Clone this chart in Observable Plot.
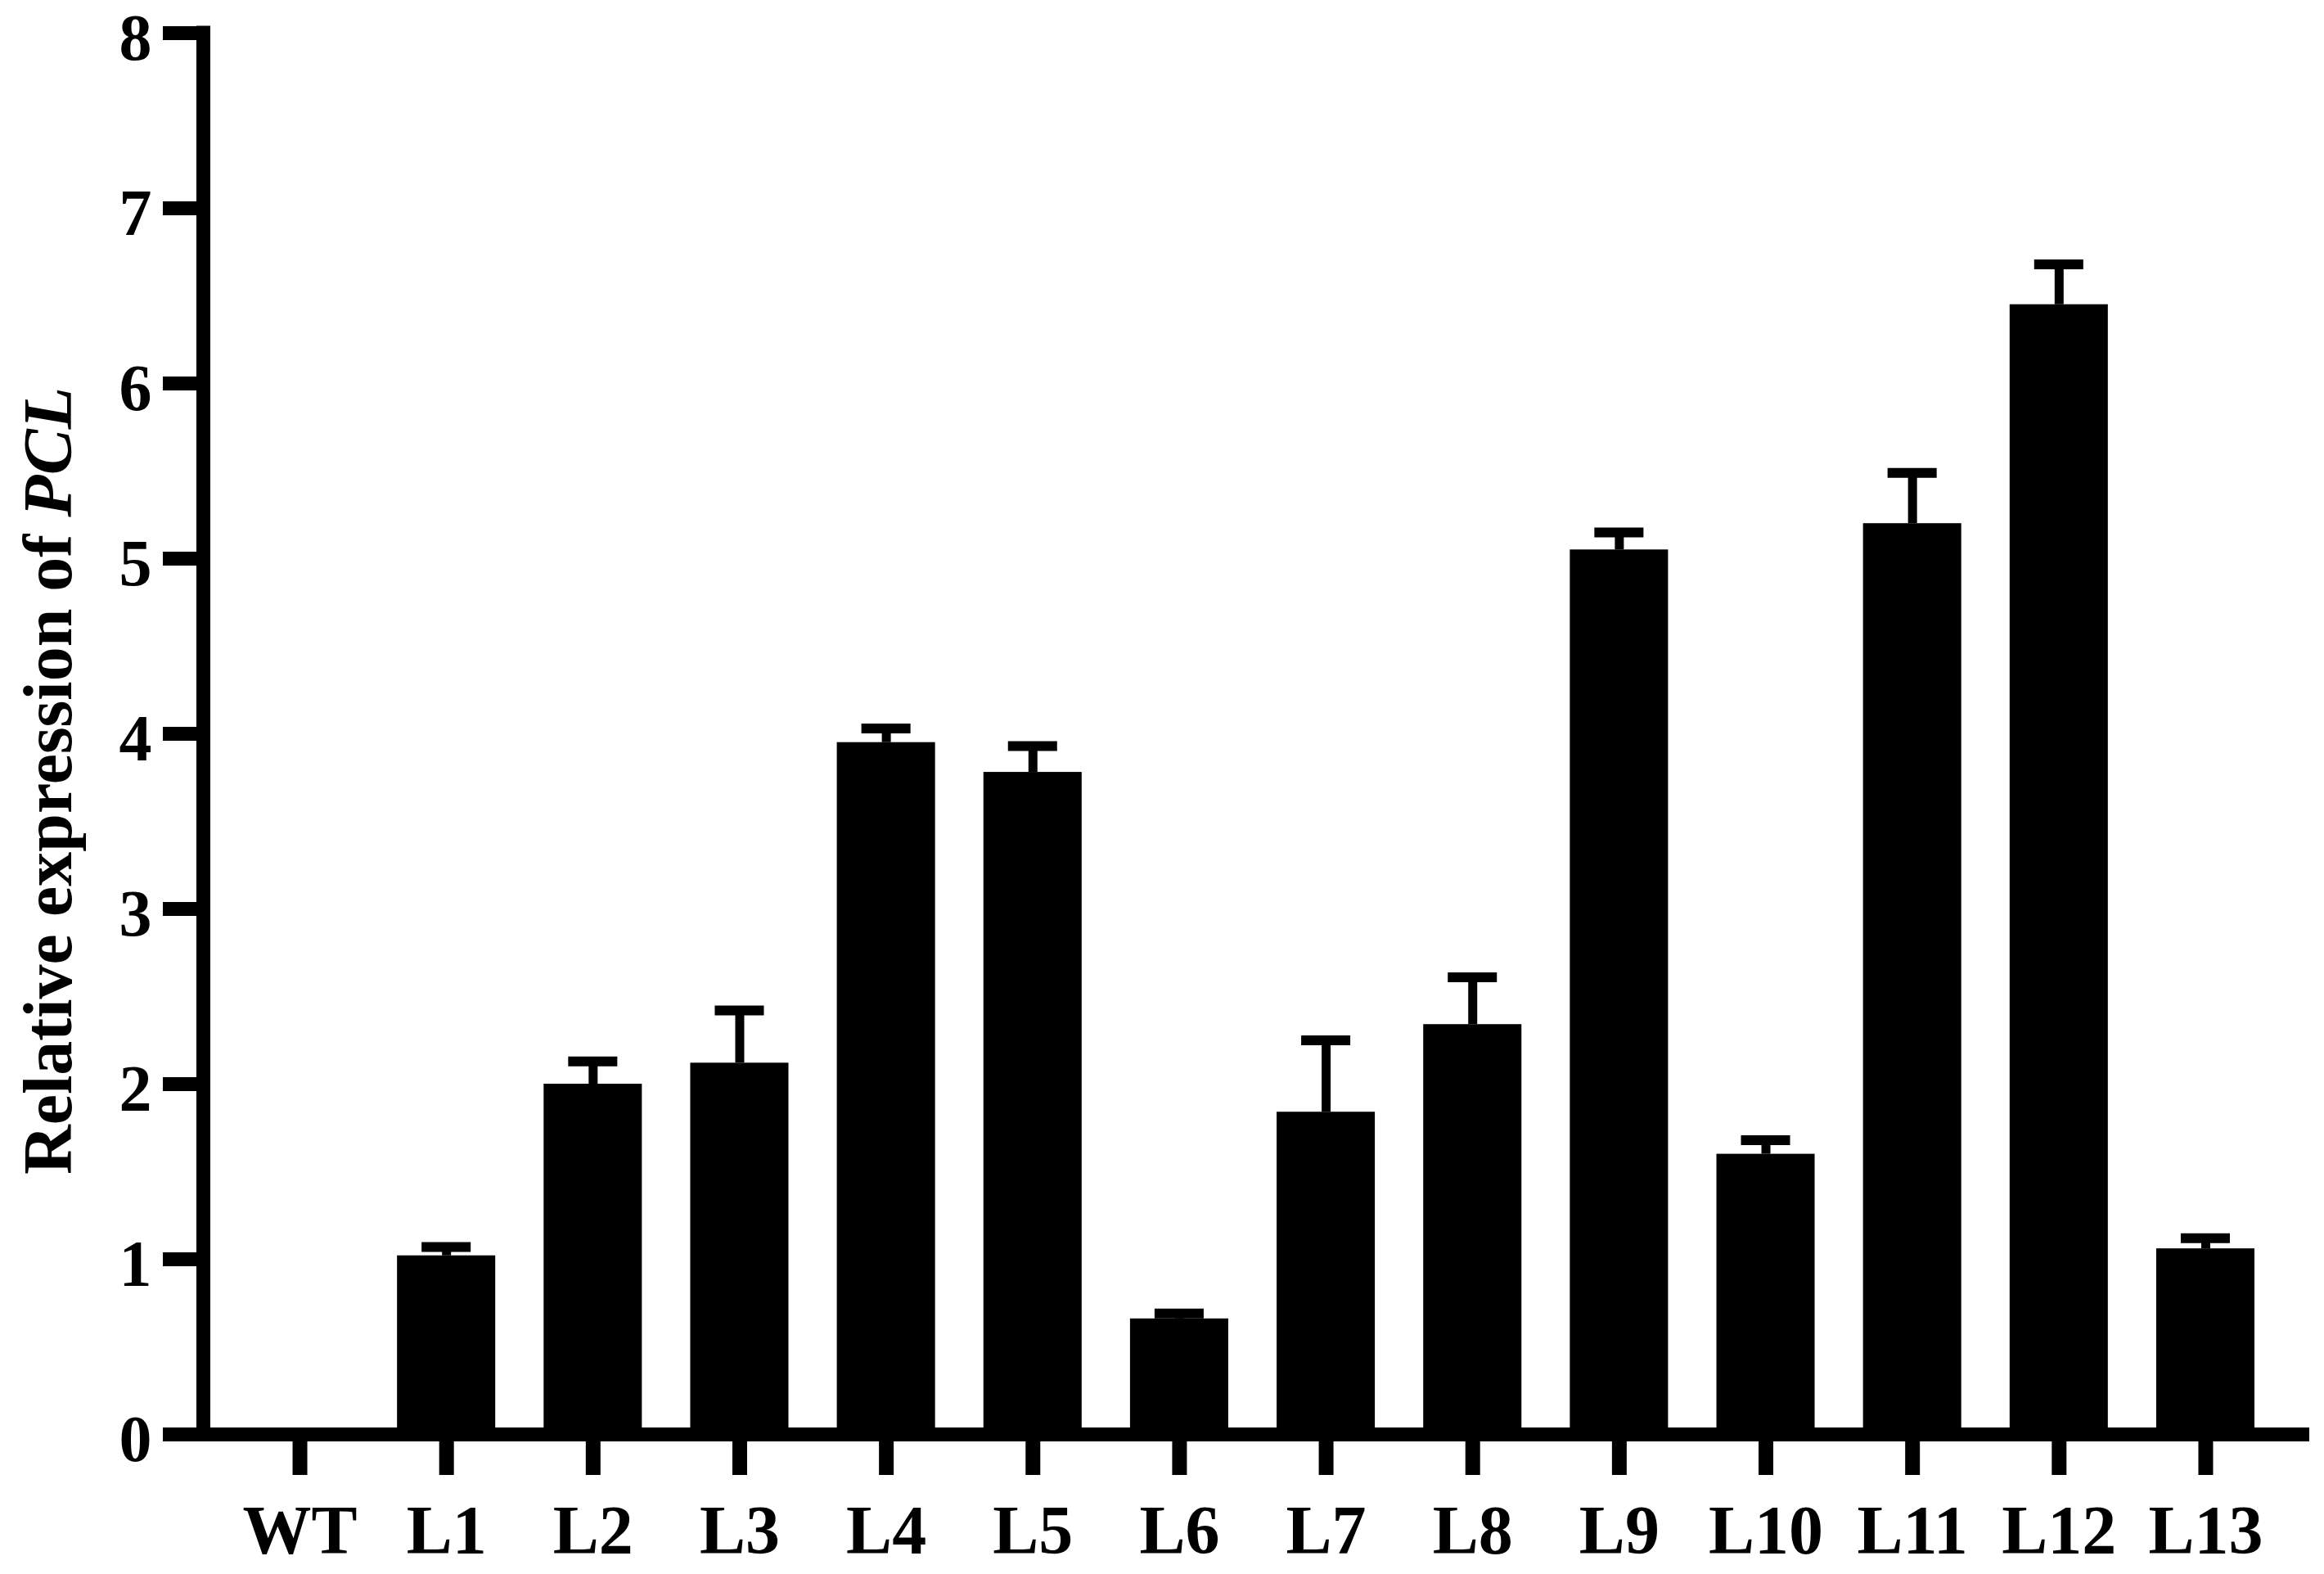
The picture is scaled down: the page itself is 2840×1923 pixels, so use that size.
<!DOCTYPE html>
<html>
<head>
<meta charset="utf-8">
<script src="https://cdn.jsdelivr.net/npm/d3@7"></script>
<script src="https://cdn.jsdelivr.net/npm/@observablehq/plot@0.6"></script>
<style>
  html, body { margin: 0; padding: 0; background: #fff; }
  #chart svg { display: block; }
</style>
</head>
<body>
<div id="chart"></div>
<script>
// ---- data ----
const categories = ["WT", "L1", "L2", "L3", "L4", "L5", "L6", "L7", "L8", "L9", "L10", "L11", "L12", "L13"];
const means      = [0, 1.02, 2.00, 2.12, 3.95, 3.78, 0.66, 1.84, 2.34, 5.05, 1.60, 5.20, 6.45, 1.06];
const errors     = [0, 0.05, 0.13, 0.30, 0.08, 0.15, 0.03, 0.41, 0.27, 0.10, 0.08, 0.29, 0.23, 0.06];
const yTicks     = [0, 1, 2, 3, 4, 5, 6, 7, 8];
const yLabelMain = "Relative expression of ";
const yLabelGene = "PCL";

const data = categories.map((c, i) => ({cat: c, mean: means[i], err: errors[i], hi: means[i] + errors[i]}));
const errData = data.filter(d => d.err > 0);

const W = 2840, H = 1923;

// y axis line as a function mark (uses the y scale)
const yAxisLine = (index, scales, values, dims) => {
  const x = dims.marginLeft + 8.5;
  return d3.create("svg:line")
    .attr("x1", x).attr("x2", x)
    .attr("y1", scales.y(8) - 8.5).attr("y2", scales.y(0))
    .attr("stroke", "black").attr("stroke-width", 17)
    .node();
};

const chart = Plot.plot({
  width: W,
  height: H,
  marginTop: 40,
  marginBottom: 171,
  marginLeft: 240,
  marginRight: 18,
  style: {
    fontFamily: "'Liberation Serif', 'DejaVu Serif', serif",
    fontWeight: "bold",
    fontSize: "84px",
    background: "white",
    color: "black"
  },
  x: {domain: categories, range: [246.9, 2814.1], padding: 0.33, round: false, label: null},
  y: {domain: [0, 8], label: null},
  marks: [
    Plot.ruleX(errData, {x: "cat", y1: "mean", y2: "hi", stroke: "black", strokeWidth: 11}),
    Plot.tickY(errData, {x: "cat", y: "hi", stroke: "black", strokeWidth: 12, insetLeft: 30, insetRight: 30}),
    Plot.barY(data, {x: "cat", y: "mean", fill: "black"}),
    Plot.axisY({ticks: yTicks, tickSize: 41, strokeWidth: 17, label: null, tickFormat: () => ""}),
    Plot.text(yTicks, {y: d => d, text: d => String(d), frameAnchor: "left", textAnchor: "end", dx: -55, dy: 7, fontSize: 80, fill: "black"}),
    Plot.axisX({tickSize: 50, tickPadding: 36, strokeWidth: 18, label: null}),
    Plot.ruleY([0], {stroke: "black", strokeWidth: 17}),
    yAxisLine
  ]
});

// y-axis title with italic gene name
const svg = d3.select(chart);
const t = svg.append("text")
  .attr("transform", "translate(87,954) rotate(-90)")
  .attr("text-anchor", "middle")
  .attr("fill", "black")
  .attr("font-size", 84)
  .attr("font-weight", "bold");
t.append("tspan").text(yLabelMain);
t.append("tspan").attr("font-style", "italic").text(yLabelGene);

document.getElementById("chart").appendChild(chart);
</script>
</body>
</html>
